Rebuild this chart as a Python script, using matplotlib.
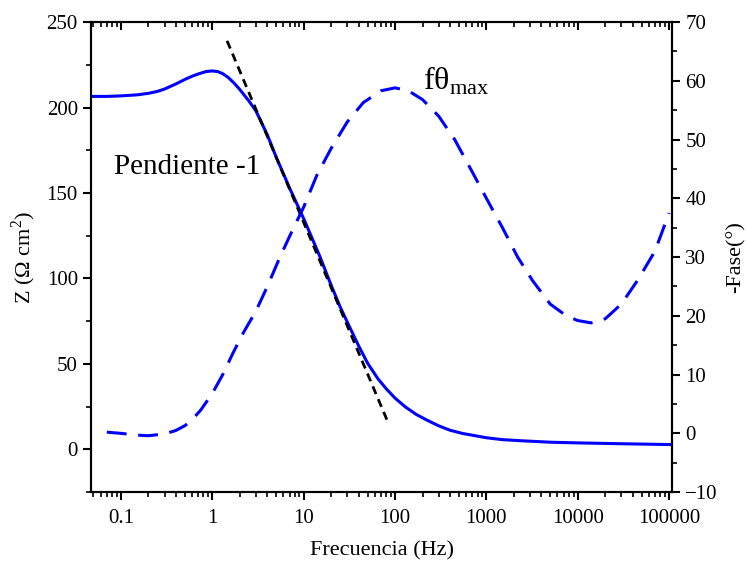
import matplotlib
matplotlib.use("Agg")
import matplotlib.pyplot as plt
import numpy as np
from matplotlib.ticker import LogLocator, MultipleLocator

plt.rcParams["font.family"] = ["Liberation Serif", "DejaVu Serif"]
plt.rcParams["mathtext.fontset"] = "custom"
plt.rcParams["mathtext.rm"] = "Liberation Serif"

# impedance modulus (ohm cm2) vs frequency (Hz)
freq_z = [0.047, 0.07, 0.1, 0.15, 0.2, 0.25, 0.3, 0.4, 0.5, 0.6, 0.7, 0.85, 1.0, 1.15, 1.3,
          1.5, 1.75, 2.0, 2.5, 3.0, 4.0, 5.0, 7.0, 10, 15, 20, 25, 30, 35, 40, 50, 65, 80,
          100, 130, 170, 220, 300, 400, 550, 700, 1000, 1500, 2500, 5000, 10000,
          30000, 108000]
z_mod = [206.5, 206.5, 206.8, 207.4, 208.3, 209.4, 210.8, 213.8, 216.4, 218.3, 219.6, 221,
         221.4, 221, 219.8, 217.5, 214, 210.5, 204, 198, 184, 171, 153, 135, 113, 96, 83.5,
         74.5, 67, 60.5, 50.5, 41.3, 35.5, 30, 24.8, 20.5, 17.3, 13.8, 11.2, 9.3, 8.3,
         6.8, 5.7, 5, 4.2, 3.8, 3.3, 2.8]

# phase (deg, plotted as -phase)
freq_ph = [0.07, 0.1, 0.15, 0.2, 0.3, 0.4, 0.5, 0.6, 0.75, 1.0, 1.3, 1.7, 2.2, 3, 4,
           5.5, 7.5, 10, 14, 20, 30, 45, 70, 100, 140, 200, 300, 450, 700, 1000,
           1500, 2200, 3200, 5000, 7500, 10000, 14000, 20000, 30000, 45000, 70000, 100000]
phase = [0.2, 0.0, -0.3, -0.4, -0.1, 0.5, 1.3, 2.3, 4.0, 6.8, 10, 13.8, 17.2, 20.8, 25,
         30, 34.5, 38.5, 44, 48.5, 53, 56.3, 58.3, 58.8, 58.3, 56.8, 54, 50, 44.5, 40,
         35, 30, 26, 22, 20, 19.2, 18.8, 19.5, 22, 26, 31, 37.5]

# slope -1 guide line endpoints
tan_f = [1.45, 85]
tan_z = [239, 15]

fig = plt.figure(figsize=(7.46, 5.65), dpi=100)
ax = fig.add_axes([0.122, 0.129, 0.779, 0.832])
ax2 = ax.twinx()

ax.plot(freq_z, z_mod, color="#0000ff", lw=2.2, zorder=3)
ax.plot(tan_f, tan_z, color="black", lw=2.0, dashes=(3, 2), zorder=4)
ax2.plot(freq_ph, phase, color="#0000ff", lw=2.2, dashes=(6.5, 3.8))

ax.set_xscale("log")
ax.set_xlim(0.047, 108000)
ax.set_ylim(-25, 250)
ax2.set_ylim(-10, 70)

ax.set_xticks([0.1, 1, 10, 100, 1000, 10000, 100000])
ax.set_xticklabels(["0.1", "1", "10", "100", "1000", "10000", "100000"])
ax.xaxis.set_minor_locator(LogLocator(base=10, subs=np.arange(2, 10), numticks=20))
ax.xaxis.set_minor_formatter(plt.NullFormatter())
ax.yaxis.set_major_locator(MultipleLocator(50))
ax.yaxis.set_minor_locator(MultipleLocator(25))
ax2.yaxis.set_major_locator(MultipleLocator(10))
ax2.yaxis.set_minor_locator(MultipleLocator(5))

for a in (ax, ax2):
    for s in a.spines.values():
        s.set_linewidth(1.5)
ax.tick_params(axis="both", which="major", direction="out", length=6, width=1.5,
               labelsize=15, top=True)
ax.tick_params(axis="both", which="minor", direction="out", length=3.5, width=1.2, top=True)
ax.xaxis.set_tick_params(which="both", labeltop=False, pad=6)
ax2.tick_params(axis="y", which="major", direction="out", length=6, width=1.5, labelsize=15)
ax2.tick_params(axis="y", which="minor", direction="out", length=3.5, width=1.2)

# top ticks hang into the plot
for t in ax.xaxis.get_major_ticks() + ax.xaxis.get_minor_ticks():
    t.tick2line.set_marker(matplotlib.lines.TICKDOWN)

ax.set_xlabel("Frecuencia (Hz)", fontsize=16, labelpad=10)
ax.set_ylabel(r"Z ($\Omega$ cm$^{\mathregular{2}}$)", fontsize=16, labelpad=6)
ax2.set_ylabel("-Fase(°)", fontsize=16, labelpad=6)

ax.text(0.53, 165, "Pendiente -1", fontsize=21, ha="center", va="center")
ax2.text(470, 60, r"f$\mathregular{\theta}_{\mathregular{max}}$", fontsize=23,
         ha="center", va="center")

fig.savefig("out.png", dpi=100)
